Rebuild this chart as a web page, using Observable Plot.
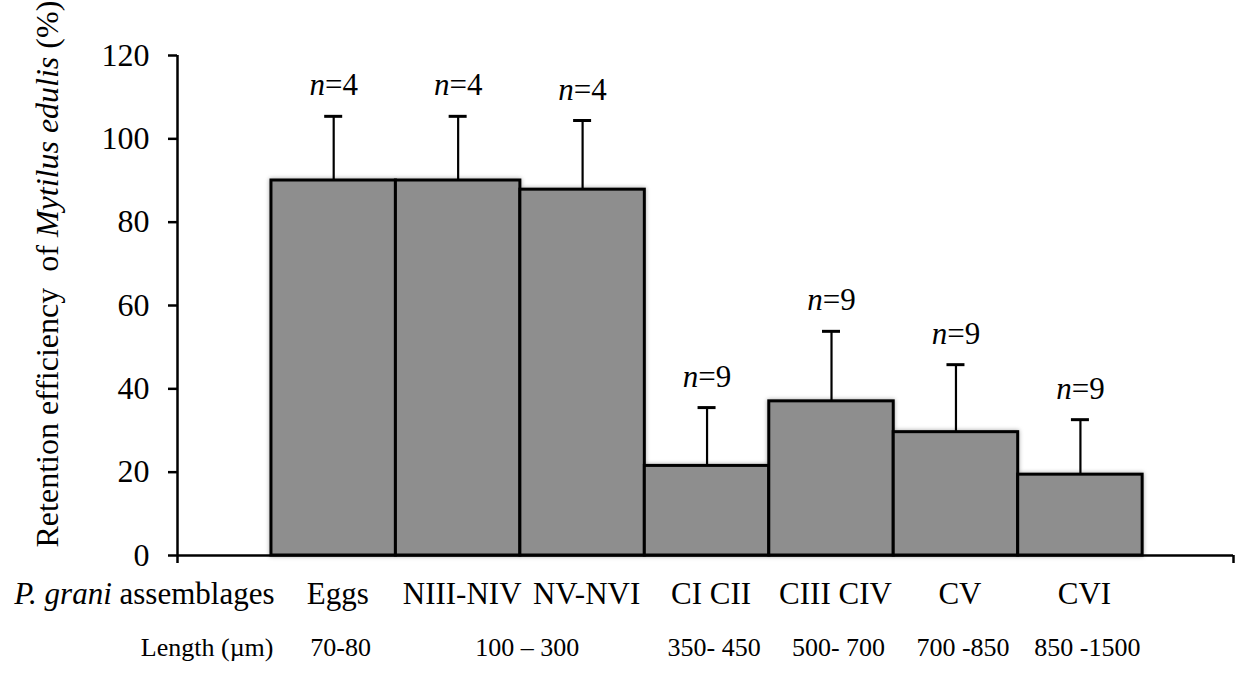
<!DOCTYPE html>
<html>
<head>
<meta charset="utf-8">
<script src="https://cdn.jsdelivr.net/npm/d3@7"></script>
<script src="https://cdn.jsdelivr.net/npm/@observablehq/plot@0.6"></script>
<style>
  html, body { margin: 0; padding: 0; background: #fff; }
</style>
</head>
<body>
<div id="chart"></div>
<script>
const categories = ["Eggs", "NIII-NIV", "NV-NVI", "CI CII", "CIII CIV", "CV", "CVI"];
const means = [90.0, 90.0, 87.8, 21.5, 37.0, 29.6, 19.4];
const errors = [15.4, 15.4, 16.6, 14.0, 16.8, 16.2, 13.2];
const nValues = [4, 4, 4, 9, 9, 9, 9];
const lengthLabels = ["70-80", "100 – 300", "350- 450", "500- 700", "700 -850", "850 -1500"];
const lengthFirst = [0, 1, 3, 4, 5, 6];   // first category covered by each length label
const lengthLast = [0, 2, 3, 4, 5, 6];    // last category covered by each length label
const yTicks = [0, 20, 40, 60, 80, 100, 120];
const yLabel = "Retention efficiency\u00a0 of Mytilus edulis (%)";
const rowLabel1 = "P. grani assemblages";
const rowLabel2 = "Length (µm)";

const data = categories.map((c, i) => ({
  i, c, mean: means[i], hi: means[i] + errors[i], n: nValues[i]
}));
const lengthData = lengthLabels.map((t, k) => ({ t, a: lengthFirst[k], b: lengthLast[k] }));

const xlo = -0.755, xhi = 7.73;
const center = d => d.i + 0.5;
const font = "'Liberation Serif', 'Times New Roman', serif";

const plot = Plot.plot({
  width: 1237,
  height: 678,
  marginLeft: 177,
  marginRight: 4,
  marginTop: 55,
  marginBottom: 123,
  style: { fontFamily: font, background: "white", color: "black", overflow: "visible" },
  x: { type: "linear", domain: [xlo, xhi], axis: null },
  y: { domain: [0, 120], axis: null },
  marks: [
    Plot.rectY(data, { x1: d => d.i, x2: d => d.i + 1, y: "mean", fill: "#8e8e8e", stroke: "black", strokeWidth: 3 }),
    Plot.ruleX(data, { x: center, y1: "mean", y2: "hi", stroke: "black", strokeWidth: 2.2 }),
    Plot.ruleY(data, { x1: center, x2: center, y: "hi", insetLeft: -9, insetRight: -9, stroke: "black", strokeWidth: 3 }),
    Plot.text(data, { x: center, y: "hi", text: d => `n=${d.n}`, dy: -21, lineAnchor: "bottom", fontSize: 31 }),
    Plot.ruleX([xlo], { stroke: "black", strokeWidth: 2.5 }),
    Plot.ruleY([0], { stroke: "black", strokeWidth: 2.5 }),
    Plot.axisY({ ticks: yTicks, tickSize: 9, tickPadding: 19, fontSize: 32, strokeWidth: 2.5 }),
    Plot.axisX({ ticks: [xlo, xhi], tickSize: 8, tickFormat: () => "", strokeWidth: 2.5 }),
    Plot.text(data, { x: center, frameAnchor: "bottom", text: "c", dx: 4, dy: 39, lineAnchor: "middle", fontSize: 31 }),
    Plot.text(lengthData, { x: d => (d.a + d.b + 1) / 2, frameAnchor: "bottom", text: "t", dx: 7, dy: 92, lineAnchor: "middle", fontSize: 26 }),
    Plot.text([rowLabel1], { frameAnchor: "bottom-left", text: d => d, dx: 97, dy: 39, textAnchor: "end", lineAnchor: "middle", fontSize: 31 }),
    Plot.text([rowLabel2], { frameAnchor: "bottom-left", text: d => d, dx: 96, dy: 92, textAnchor: "end", lineAnchor: "middle", fontSize: 26 }),
    Plot.text([yLabel], { frameAnchor: "left", text: d => d, rotate: -90, textAnchor: "start", lineAnchor: "middle", dx: -130, dy: 242, fontSize: 32 })
  ]
});

const svg = d3.select(plot);
svg.selectAll("text").each(function () {
  const el = d3.select(this);
  const t = this.textContent;
  if (/^n=\d+$/.test(t)) {
    el.text(null);
    el.append("tspan").attr("font-style", "italic").text("n");
    el.append("tspan").text(t.slice(1));
  } else if (t === rowLabel1) {
    el.text(null);
    el.append("tspan").attr("font-style", "italic").text("P. grani");
    el.append("tspan").text(" assemblages");
  } else if (t === yLabel) {
    el.text(null);
    el.append("tspan").text("Retention efficiency\u00a0 of ");
    el.append("tspan").attr("font-style", "italic").text("Mytilus edulis");
    el.append("tspan").text(" (%)");
  }
});
svg.select('g[aria-label="rect"]').style("filter", "drop-shadow(0px 0px 2px rgba(0,0,0,0.35))");

document.getElementById("chart").appendChild(plot);
</script>
</body>
</html>
